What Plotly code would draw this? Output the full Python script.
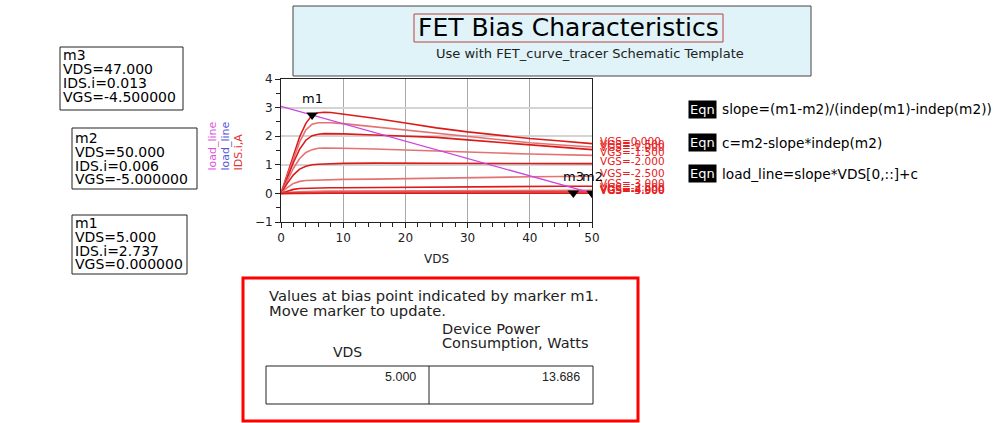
import plotly.graph_objects as go

# ---------------- data ----------------
vds = [0, 1, 2, 3, 4, 5, 6, 7, 8, 10, 15, 20, 25, 30, 35, 40, 45, 50]

vgs_labels = ["VGS=0.000", "VGS=-0.500", "VGS=-1.000", "VGS=-1.500", "VGS=-2.000",
              "VGS=-2.500", "VGS=-3.000", "VGS=-3.500", "VGS=-4.000", "VGS=-4.500",
              "VGS=-5.000"]

ids_vgs_0 = [0, 0.68, 1.36, 1.98, 2.45, 2.737, 2.82, 2.84, 2.83, 2.78, 2.63, 2.46, 2.29, 2.15, 2.03, 1.92, 1.83, 1.74]
ids_vgs_m05 = [0, 0.62, 1.24, 1.80, 2.22, 2.42, 2.47, 2.48, 2.47, 2.44, 2.33, 2.21, 2.10, 1.98, 1.87, 1.77, 1.69, 1.62]
ids_vgs_m10 = [0, 0.55, 1.08, 1.55, 1.86, 2.02, 2.07, 2.09, 2.09, 2.08, 2.04, 2.00, 1.96, 1.87, 1.78, 1.69, 1.61, 1.53]
ids_vgs_m15 = [0, 0.45, 0.88, 1.22, 1.43, 1.53, 1.58, 1.59, 1.59, 1.58, 1.55, 1.51, 1.48, 1.44, 1.41, 1.38, 1.35, 1.33]
ids_vgs_m20 = [0, 0.35, 0.65, 0.85, 0.95, 1.00, 1.02, 1.03, 1.04, 1.05, 1.06, 1.06, 1.06, 1.05, 1.05, 1.04, 1.04, 1.04]
ids_vgs_m25 = [0, 0.20, 0.35, 0.42, 0.45, 0.46, 0.47, 0.47, 0.48, 0.49, 0.50, 0.52, 0.54, 0.56, 0.57, 0.58, 0.59, 0.60]
ids_vgs_m30 = [0, 0.08, 0.14, 0.17, 0.18, 0.19, 0.19, 0.20, 0.20, 0.20, 0.21, 0.22, 0.23, 0.24, 0.24, 0.25, 0.25, 0.25]
ids_vgs_m35 = [0, 0.03, 0.05, 0.06, 0.07, 0.07, 0.07, 0.08, 0.08, 0.08, 0.08, 0.09, 0.09, 0.09, 0.10, 0.10, 0.10, 0.105]
ids_vgs_m40 = [0, 0.01, 0.02, 0.02, 0.02, 0.02, 0.03, 0.03, 0.03, 0.03, 0.03, 0.03, 0.04, 0.04, 0.04, 0.04, 0.05, 0.05]
ids_vgs_m45 = [0, 0.005, 0.008, 0.009, 0.01, 0.01, 0.01, 0.01, 0.01, 0.011, 0.011, 0.011, 0.012, 0.012, 0.012, 0.013, 0.013, 0.013]
ids_vgs_m50 = [0, 0.003, 0.004, 0.005, 0.005, 0.005, 0.005, 0.005, 0.005, 0.005, 0.005, 0.005, 0.006, 0.006, 0.006, 0.006, 0.006, 0.006]

ids_curves = [ids_vgs_0, ids_vgs_m05, ids_vgs_m10, ids_vgs_m15, ids_vgs_m20, ids_vgs_m25,
              ids_vgs_m30, ids_vgs_m35, ids_vgs_m40, ids_vgs_m45, ids_vgs_m50]

marker_names = ["m1", "m2", "m3"]
marker_vds = [5.0, 50.0, 47.0]
marker_ids = [2.737, 0.006, 0.013]
marker_vgs = [0.0, -5.0, -4.5]

table_headers = ["VDS", "Device Power", "Consumption, Watts"]
table_values = ["5.000", "13.686"]

eqn_texts = ["slope=(m1-m2)/(indep(m1)-indep(m2))",
             "c=m2-slope*indep(m2)",
             "load_line=slope*VDS[0,::]+c"]

x_ticks = [0, 10, 20, 30, 40, 50]
y_ticks = [-1, 0, 1, 2, 3, 4]

# load line from the chart's equations (m1, m2)
slope = (marker_ids[0] - marker_ids[1]) / (marker_vds[0] - marker_vds[1])
c = marker_ids[1] - slope * marker_vds[1]
load_x = [vds[0], vds[-1]]
load_y = [slope * v + c for v in load_x]

# ---------------- layout helpers ----------------
W, H = 1004, 423
def px(x):
    return x / W
def py(y):
    return 1 - y / H

FONT = "DejaVu Sans"

fig = go.Figure()

curve_colors = ["#dd1a1a", "#e57272"]
for i, (lab, ids) in enumerate(zip(vgs_labels, ids_curves)):
    fig.add_trace(go.Scatter(x=vds, y=ids, mode="lines", name=lab,
                             line=dict(color=curve_colors[i % 2], width=1.6),
                             showlegend=False, hoverinfo="skip"))

fig.add_trace(go.Scatter(x=load_x, y=load_y, mode="lines", name="load_line",
                         line=dict(color="#cc44dd", width=1.3), showlegend=False))

fig.add_trace(go.Scatter(x=marker_vds, y=marker_ids, mode="markers",
                         marker=dict(symbol="triangle-down", size=10, color="black"),
                         showlegend=False))

annotations = []
# curve-end labels
for lab, ids in zip(vgs_labels, ids_curves):
    annotations.append(dict(x=vds[-1], y=ids[-1], xref="x", yref="y", text=lab,
                            showarrow=False, xanchor="left", yanchor="middle",
                            xshift=6, yshift=3,
                            font=dict(family=FONT, size=10.5, color="#e82020")))
# marker labels
for name, mx, my in zip(marker_names, marker_vds, marker_ids):
    annotations.append(dict(x=mx, y=my, xref="x", yref="y", text=name,
                            showarrow=False, xanchor="center", yanchor="bottom",
                            yshift=7, font=dict(family=FONT, size=13, color="black")))

# rotated y-axis labels
for txt, xc, col in [("load_line", 212, "#dd55dd"), ("load_line", 225, "#5555dd"),
                     ("IDS.i,A", 238, "#e03030")]:
    annotations.append(dict(x=px(xc), y=py(173), xref="paper", yref="paper", text=txt,
                            textangle=-90, showarrow=False, xanchor="center",
                            yanchor="bottom", font=dict(family=FONT, size=11, color=col)))

# x-axis title
annotations.append(dict(x=px(436), y=py(259), xref="paper", yref="paper", text="VDS",
                        showarrow=False, xanchor="center", yanchor="middle",
                        font=dict(family=FONT, size=12, color="#222")))

# title
annotations.append(dict(x=px(568), y=py(28), xref="paper", yref="paper",
                        text="FET Bias Characteristics", showarrow=False,
                        xanchor="center", yanchor="middle",
                        font=dict(family=FONT, size=25, color="black")))
annotations.append(dict(x=px(590), y=py(54), xref="paper", yref="paper",
                        text="Use with FET_curve_tracer Schematic Template", showarrow=False,
                        xanchor="center", yanchor="middle",
                        font=dict(family=FONT, size=13, color="#222")))

shapes = []
# title box and red frame around title
shapes.append(dict(type="rect", xref="paper", yref="paper", x0=px(293), x1=px(811),
                   y0=py(76), y1=py(6), fillcolor="#dff3f8",
                   line=dict(color="#444", width=1), layer="below"))
shapes.append(dict(type="rect", xref="paper", yref="paper", x0=px(414), x1=px(723),
                   y0=py(42), y1=py(14), fillcolor="rgba(0,0,0,0)",
                   line=dict(color="#c04040", width=1)))

# marker readout boxes
box_geo = {"m3": (60, 183, 47, 110, [55, 69.3, 83.3, 97.3]),
           "m2": (72, 197, 128, 189, [138.3, 151.7, 166, 179.3]),
           "m1": (72, 187, 215, 274, [223.3, 236.7, 250.7, 264])}
for name, mx, my, mg in zip(marker_names, marker_vds, marker_ids, marker_vgs):
    x0, x1, y0, y1, lines_y = box_geo[name]
    shapes.append(dict(type="rect", xref="paper", yref="paper", x0=px(x0), x1=px(x1),
                       y0=py(y1), y1=py(y0), line=dict(color="#222", width=1)))
    texts = [name, f"VDS={mx:.3f}", f"IDS.i={my:.3f}", f"VGS={mg:.6f}"]
    for t, ly in zip(texts, lines_y):
        annotations.append(dict(x=px(x0 + 1), y=py(ly), xref="paper", yref="paper",
                                text=t, showarrow=False, xanchor="left", yanchor="middle",
                                font=dict(family=FONT, size=14, color="black")))

# equations
for t, ly in zip(eqn_texts, [109, 143, 174]):
    annotations.append(dict(x=px(688), y=py(ly), xref="paper", yref="paper", text="Eqn",
                            showarrow=False, xanchor="left", yanchor="middle",
                            bgcolor="black", borderpad=1,
                            font=dict(family=FONT, size=13, color="white")))
    annotations.append(dict(x=px(720), y=py(ly), xref="paper", yref="paper", text=t,
                            showarrow=False, xanchor="left", yanchor="middle",
                            font=dict(family=FONT, size=13.7, color="black")))

# bottom red box with table
shapes.append(dict(type="rect", xref="paper", yref="paper", x0=px(243), x1=px(638),
                   y0=py(421), y1=py(278), line=dict(color="#ff0000", width=3)))
annotations.append(dict(x=px(267), y=py(295), xref="paper", yref="paper",
                        text="Values at bias point indicated by marker m1.", showarrow=False,
                        xanchor="left", yanchor="middle",
                        font=dict(family=FONT, size=14.7, color="#222")))
annotations.append(dict(x=px(267), y=py(310), xref="paper", yref="paper",
                        text="Move marker to update.", showarrow=False,
                        xanchor="left", yanchor="middle",
                        font=dict(family=FONT, size=14.7, color="#222")))
annotations.append(dict(x=px(347), y=py(352), xref="paper", yref="paper",
                        text=table_headers[0], showarrow=False,
                        xanchor="center", yanchor="middle",
                        font=dict(family=FONT, size=14, color="#222")))
for t, ly in zip(table_headers[1:], [329, 342.5]):
    annotations.append(dict(x=px(440), y=py(ly), xref="paper", yref="paper",
                            text=t, showarrow=False, align="left",
                            xanchor="left", yanchor="middle",
                            font=dict(family=FONT, size=14.5, color="#222")))
shapes.append(dict(type="rect", xref="paper", yref="paper", x0=px(266), x1=px(593),
                   y0=py(404), y1=py(366), line=dict(color="#222", width=1)))
shapes.append(dict(type="line", xref="paper", yref="paper", x0=px(429), x1=px(429),
                   y0=py(404), y1=py(366), line=dict(color="#222", width=1)))
for t, xr in zip(table_values, [418, 582]):
    annotations.append(dict(x=px(xr), y=py(377), xref="paper", yref="paper", text=t,
                            showarrow=False, xanchor="right", yanchor="middle",
                            font=dict(family="Liberation Sans", size=12.5, color="#222")))

fig.update_layout(
    width=W, height=H,
    margin=dict(l=0, r=0, t=0, b=0),
    paper_bgcolor="white", plot_bgcolor="white",
    showlegend=False,
    annotations=annotations, shapes=shapes,
    xaxis=dict(domain=[px(281), px(592)], range=[0, 50], tickvals=x_ticks,
               ticks="outside", ticklen=5, tickcolor="#222",
               showgrid=True, gridcolor="#a8a8a8", gridwidth=1, zeroline=False,
               showline=True, linecolor="#222", linewidth=1, mirror=True,
               minor=dict(dtick=2, ticks="outside", ticklen=4, tickcolor="#222", showgrid=False),
               tickfont=dict(family=FONT, size=12, color="#222"), automargin=False),
    yaxis=dict(domain=[py(222), py(79)], range=[-1, 4], tickvals=y_ticks,
               ticks="outside", ticklen=5, tickcolor="#222",
               showgrid=True, gridcolor="#d4d4d4", gridwidth=1.5, zeroline=False,
               showline=True, linecolor="#222", linewidth=1, mirror=True,
               minor=dict(dtick=0.5, ticks="outside", ticklen=4, tickcolor="#222", showgrid=False),
               tickfont=dict(family=FONT, size=12, color="#222"), automargin=False),
)

fig.write_html("out.html", config={"displayModeBar": False},
               post_script="document.body.style.margin='0';")
